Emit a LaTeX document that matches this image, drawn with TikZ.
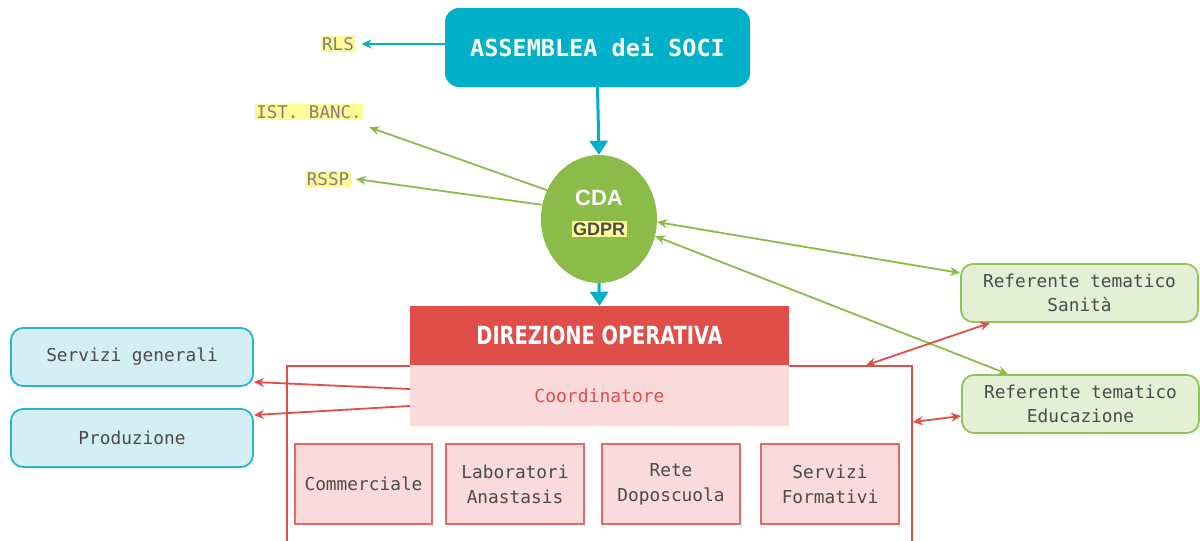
\documentclass[tikz,border=0pt]{standalone}
\usepackage{fontspec}
\usetikzlibrary{shapes.geometric,arrows.meta}
\newfontfamily\monof{DejaVu Sans Mono}
\newfontfamily\condf{DejaVu Sans Condensed}
\newfontfamily\sansf{Liberation Sans}
\definecolor{teal}{RGB}{0,175,200}
\definecolor{cgreen}{RGB}{139,188,74}
\definecolor{cred}{RGB}{224,78,74}
\definecolor{cpink}{RGB}{250,218,219}
\definecolor{lblue}{RGB}{212,238,245}
\definecolor{bblue}{RGB}{40,180,205}
\definecolor{lgreen}{RGB}{227,240,214}
\definecolor{bgreen}{RGB}{145,195,90}
\definecolor{hyel}{RGB}{255,250,150}
\definecolor{tgray}{RGB}{75,75,75}
\tikzset{
  bluebox/.style={draw=bblue,line width=1.8pt,fill=lblue,rounded corners=12pt,minimum width=242pt,minimum height=58pt,font=\monof\fontsize{17.8}{21}\selectfont,text=tgray},
  greenbox/.style={draw=bgreen,line width=1.8pt,fill=lgreen,rounded corners=12pt,minimum width=237pt,minimum height=58pt,font=\monof\fontsize{17.8}{24}\selectfont,text=tgray,align=center},
  unitbox/.style={draw=cred!85,line width=1.5pt,fill=cpink,minimum width=137pt,minimum height=80pt,font=\monof\fontsize{17.8}{25}\selectfont,text=tgray,align=center},
  hlabel/.style={fill=hyel,inner sep=1.5pt,font=\monof\fontsize{17.5}{19}\selectfont,text=gray},
  tealarrow/.style={draw=teal,line width=3pt,-{Triangle[length=14pt,width=18pt]}},
  tealthin/.style={draw=teal,line width=1.8pt,-{Stealth[length=10pt,width=9pt]}},
  greenarrow/.style={draw=cgreen,line width=1.8pt,-{Stealth[length=10pt,width=9pt]}},
  greenboth/.style={draw=cgreen,line width=1.8pt,{Stealth[length=10pt,width=9pt]}-{Stealth[length=10pt,width=9pt]}},
  redarrow/.style={draw=cred,line width=1.8pt,-{Stealth[length=10pt,width=9pt]}},
  redboth/.style={draw=cred,line width=1.8pt,{Stealth[length=10pt,width=9pt]}-{Stealth[length=10pt,width=9pt]}},
}
\begin{document}
\begin{tikzpicture}[x=1pt,y=-1pt]
\useasboundingbox (0,0) rectangle (1200,541);
\clip (0,0) rectangle (1200,541);
\fill[white] (0,0) rectangle (1200,541);

% big outline area
\node[draw=cred,line width=1.5pt,minimum width=625pt,minimum height=194pt,inner sep=0pt] (area) at (599.5,463) {};

% top
\node[fill=teal,rounded corners=14pt,minimum width=305pt,minimum height=79pt,text=white,font=\monof\bfseries\fontsize{23.5}{25}\selectfont] (assemblea) at (597.5,47.5) {ASSEMBLEA dei SOCI};
\node[ellipse,fill=cgreen,minimum width=116pt,minimum height=128pt,inner sep=0pt] (cda) at (599,219) {};
\node[text=white,font=\sansf\bfseries\fontsize{22}{24}\selectfont] (cdat) at (599,198) {CDA};
\node[fill=hyel,inner sep=1.5pt,text=tgray,font=\sansf\bfseries\fontsize{18}{20}\selectfont] (gdpr) at (599,229) {GDPR};

\node[hlabel] (rls) at (338,44) {RLS};
\node[hlabel] (ist) at (309,112) {IST. BANC.};
\node[hlabel] (rssp) at (328,179) {RSSP};

% direzione
\node[fill=cred,minimum width=379pt,minimum height=59pt,inner sep=0pt,text=white,font=\condf\bfseries\fontsize{25}{27}\selectfont] (dir) at (599.5,335.5) {\scalebox{0.86}[1]{DIREZIONE OPERATIVA}};
\node[fill=cpink,minimum width=379pt,minimum height=61pt,inner sep=0pt,text=cred,font=\monof\fontsize{18}{20}\selectfont] (coord) at (599.5,395.5) {Coordinatore};

\node[unitbox] (comm) at (363.5,484) {Commerciale};
\node[unitbox,minimum width=138pt] (lab) at (515,484) {Laboratori\\Anastasis};
\node[unitbox,minimum width=138pt] (rete) at (671,484) {Rete\\Doposcuola};
\node[unitbox,minimum width=138pt] (form) at (830,484) {Servizi\\Formativi};

\node[bluebox] (servgen) at (132,357) {Servizi generali};
\node[bluebox] (prod) at (132,438) {Produzione};

\node[greenbox] (sanita) at (1079.5,293) {Referente tematico\\Sanità};
\node[greenbox] (educ) at (1080.5,404) {Referente tematico\\Educazione};

% connectors
\draw[tealthin] ([yshift=3.5pt]assemblea.west) -- ([xshift=6pt]rls.east);
\draw[tealarrow] (assemblea.south) -- (cda.north);
\draw[tealarrow] (cda.south) -- (dir.north);
\draw[greenarrow] (cda.151) -- ([xshift=6pt,yshift=-7pt]ist.south east);
\draw[greenarrow] (cda.166) -- ([xshift=5pt]rssp.east);
\draw[greenboth] (cda.-3) -- ([yshift=20pt]sanita.west);
\draw[greenboth] (cda.-17) -- ([xshift=-72.5pt]educ.north);
\draw[redarrow] ([yshift=6.5pt]coord.west) -- ([yshift=-25pt]servgen.east);
\draw[redarrow] ([yshift=-10.5pt]coord.west) -- ([yshift=23pt]prod.east);
\draw[redboth] ([xshift=-89.5pt]sanita.south) -- ([xshift=266.5pt]area.north);
\draw[redboth] ([yshift=-12pt]educ.west) -- ([yshift=41pt]area.east);
\end{tikzpicture}
\end{document}
